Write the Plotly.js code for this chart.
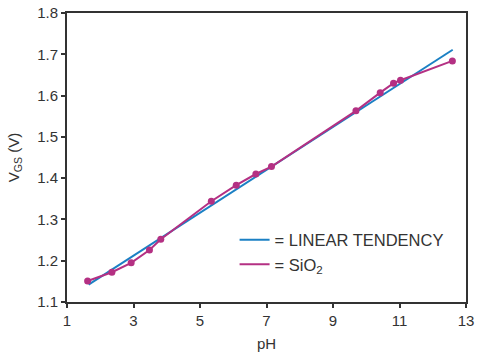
<!DOCTYPE html>
<html>
<head>
<meta charset="utf-8">
<script src="https://cdn.plot.ly/plotly-3.0.1.min.js"></script>
<style>html,body{margin:0;padding:0;background:#fff;}</style>
</head>
<body>
<div id="chart" style="width:479px;height:356px;"></div>
<script>
const sio2PH = [1.62, 2.35, 2.93, 3.48, 3.82, 5.34, 6.09, 6.68, 7.15, 9.69, 10.42, 10.82, 11.03, 12.59];
const sio2VGS = [1.151, 1.172, 1.195, 1.226, 1.252, 1.344, 1.383, 1.410, 1.428, 1.563, 1.607, 1.630, 1.637, 1.684];
const linearPH = [1.65, 12.6];
const linearVGS = [1.142, 1.711];
const xTicks = [1, 3, 5, 7, 9, 11, 13];
const yTicks = [1.1, 1.2, 1.3, 1.4, 1.5, 1.6, 1.7, 1.8];

const textColor = '#333333';
const font = {family: 'Liberation Sans, Arial, sans-serif', size: 15, color: textColor};
const magenta = '#b43083';
const blue = '#1b80c4';

const traces = [
  {x: linearPH, y: linearVGS, mode: 'lines', name: '= LINEAR TENDENCY',
   line: {color: blue, width: 2}},
  {x: sio2PH, y: sio2VGS, mode: 'lines', name: '= SiO<sub>2</sub>',
   line: {color: magenta, width: 2}},
  {x: sio2PH, y: sio2VGS, mode: 'markers', showlegend: false,
   marker: {color: magenta, size: 7}}
];

const axisCommon = {
  showgrid: false, zeroline: false, showline: true, linecolor: '#333333', linewidth: 2,
  mirror: true, ticks: 'outside', ticklen: 4, tickwidth: 2, tickcolor: '#333333',
  tickfont: font
};

const layout = {
  width: 479, height: 356,
  margin: {l: 67, r: 13, t: 13, b: 54},
  paper_bgcolor: '#ffffff', plot_bgcolor: '#ffffff',
  font: font,
  showlegend: true,
  legend: {x: 0.42, y: 0.275, xanchor: 'left', yanchor: 'top', bgcolor: 'rgba(0,0,0,0)',
           font: {family: 'Liberation Sans, Arial, sans-serif', size: 16.5, color: textColor},
           tracegroupgap: 0, itemwidth: 30},
  xaxis: Object.assign({}, axisCommon, {
    range: [1, 13], tickvals: xTicks, ticktext: xTicks.map(String),
    title: {text: 'pH', font: font, standoff: 10}
  }),
  yaxis: Object.assign({}, axisCommon, {
    range: [1.1, 1.8], tickvals: yTicks, ticktext: yTicks.map(v => v.toFixed(1)),
    title: {text: 'V<sub>GS</sub> (V)', font: font, standoff: 14}
  })
};

Plotly.newPlot('chart', traces, layout, {displayModeBar: false, staticPlot: true});
</script>
</body>
</html>
